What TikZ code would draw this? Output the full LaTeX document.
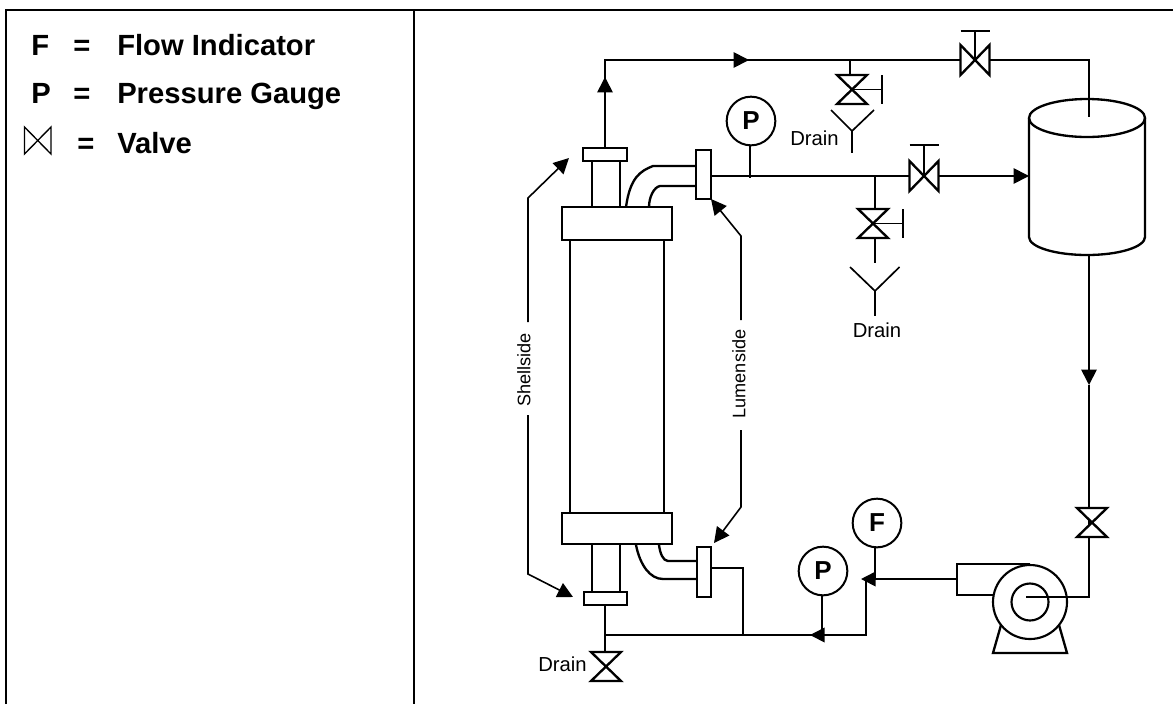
\documentclass[tikz,border=0pt]{standalone}
\usepackage{fontspec}
\setmainfont{Liberation Sans}
\usetikzlibrary{arrows.meta}
\tikzset{
  x=0.75pt,y=-0.75pt,
  pipe/.style={line width=1.25pt,line join=miter},
  equip/.style={line width=1.75pt,line join=miter,fill=white},
  frameline/.style={line width=1.6pt},
  thin leader/.style={line width=1.2pt},
  tipped/.style={-{Triangle[length=11.5pt,width=11.5pt,fill=black]},line width=1.25pt},
  gauge/.style={circle,draw,line width=1.5pt,minimum size=36.5pt,inner sep=0pt,fill=white,font=\bfseries\fontsize{19.5}{20}\selectfont},
  tag/.style={inner sep=0pt,font=\fontsize{15.2}{16}\selectfont},
  sidetag/.style={inner sep=1pt,rotate=90,font=\fontsize{13.6}{15}\selectfont},
  legend/.style={anchor=base west,inner sep=0pt,font=\bfseries\fontsize{21.9}{24}\selectfont},
  pics/vertvalve/.style={code={\draw[equip] (-15,-14.5) -- (15,-14.5) -- (-15,14.5) -- (15,14.5) -- cycle;}},
  pics/horizvalve/.style={code={\draw[equip] (-14.5,-15) -- (-14.5,15) -- (14.5,-15) -- (14.5,15) -- cycle;}},
}
\begin{document}
\begin{tikzpicture}
\useasboundingbox (0,0) rectangle (1173,704);
\fill[white] (0,0) rectangle (1173,704);
% frame
\coordinate (fTL) at (6,10); \coordinate (fBL) at (6,704);
\coordinate (fTR) at (1173,10); \coordinate (fMT) at (414,10); \coordinate (fMB) at (414,704);
\draw[frameline] (fBL) -- (fTL) -- (fTR);
\draw[frameline] (fMT) -- (fMB);
% legend
\node[legend] (lF) at (31,55) {F};
\node[legend] (lFe) at (73,55) {=};
\node[legend] (lFt) at (117,55) {Flow Indicator};
\node[legend] (lP) at (31,103) {P};
\node[legend] (lPe) at (73,103) {=};
\node[legend] (lPt) at (117,103) {Pressure Gauge};
\draw[line width=1pt] (24.5,127) -- (24.5,154) -- (51,127) -- (51,154) -- cycle;
\node[legend] (lVe) at (77,153) {=};
\node[legend] (lVt) at (117,153) {Valve};
% coordinates
\coordinate (upOut) at (605,148);
\coordinate (corner1) at (605,60);
\coordinate (arrowTop) at (749,60);
\coordinate (tankIn) at (1089,117);
\coordinate (corner2) at (1089,60);
\coordinate (mainV) at (975,60);
\coordinate (lumOut) at (711,176);
\coordinate (tankSide) at (1029,176);
\coordinate (prodV) at (924,176);
\coordinate (tankBot) at (1089,255);
\coordinate (corner3) at (1089,597);
\coordinate (pumpIn) at (1026,597);
\coordinate (recV) at (1092,522.5);
\coordinate (pumpOut) at (957,579);
\coordinate (fJunc) at (866,579);
\coordinate (fCorner) at (866,635);
\coordinate (pJunc) at (810,635);
\coordinate (shellNode) at (605,635);
\coordinate (lowOut) at (605,605);
\coordinate (drainV) at (606,666.5);
\coordinate (branchLow) at (743,635);
\coordinate (branchUp) at (743,568);
\coordinate (lumIn) at (711,568);
% main pipes
\draw[pipe] (upOut) -- (corner1) -- (mainV) -- (corner2) -- (1089,99);
\draw[tipped] (upOut) -- (605,77);
\draw[tipped] (680,60) -- (arrowTop);
\draw[pipe] (lumOut) -- (prodV);
\draw[tipped] (prodV) -- (tankSide);
% tank
\draw[equip] (1029,118) -- (1029,237) arc[start angle=180,end angle=360,x radius=58,y radius=-18] -- (1145,118);
\draw[equip,fill=none] (1087,118) ellipse[x radius=58,y radius=19];
\draw[pipe] (corner2) -- (tankIn);
% return line
\draw[pipe] (tankBot) -- (1089,375);
\draw[tipped] (1089,330) -- (1089,385);
\draw[pipe] (1089,385) -- (corner3) -- (pumpIn);
\pic at (recV) {vertvalve};
% pump
\draw[equip] (993,595) -- (957,595) -- (957,564) -- (1030,564);
\draw[equip] (1001,625) -- (993,653) -- (1067,653) -- (1059,625);
\draw[line width=1.6pt] (1030,602) circle[radius=37];
\draw[line width=1.6pt] (1030,602) circle[radius=18.5];
\draw[pipe] (1026,597) -- (corner3);
% discharge
\draw[pipe] (pumpOut) -- (fJunc) -- (fCorner) -- (pJunc);
\draw[pipe] (fCorner) -- (shellNode) -- (lowOut);
\draw[-{Triangle[length=11pt,width=11pt,fill=black]},line width=1.25pt] (875,579) -- (861,579);
\draw[-{Triangle[length=11pt,width=11pt,fill=black]},line width=1.25pt] (824,635) -- (810,635);
\draw[pipe] (branchLow) -- (branchUp) -- (lumIn);
% module
\draw[equip] (570,240) rectangle (664,513);
\draw[equip] (562,207) rectangle (672,240);
\draw[equip] (562,513) rectangle (672,544);
\draw[equip] (592,161) rectangle (620,207);
\draw[equip] (583,148) rectangle (627,161);
\draw[equip] (592,544) rectangle (620,592);
\draw[equip] (584,592) rectangle (627,605);
% lumen elbows
\draw[equip,fill=none] (696,166) -- (653,166) .. controls (640,171) and (630,178) .. (626,207);
\draw[equip,fill=none] (696,186) -- (660,186) .. controls (654,187) and (649,197) .. (649,207);
\draw[equip] (696,150) rectangle (711,199);
\draw[equip,fill=none] (697,561) -- (668,561) .. controls (663,561) and (660,553) .. (659,545);
\draw[equip,fill=none] (697,579) -- (663,579) .. controls (650,579) and (640,565) .. (636,545);
\draw[equip] (697,547) rectangle (711,597);
% drain at shell bottom
\draw[pipe] (shellNode) -- (605,652);
\pic at (drainV) {vertvalve};
\node[tag,anchor=base west] (d3) at (538,671) {Drain};
% handwheel valves
\pic at (mainV) {horizvalve};
\coordinate (mainT) at (975,31);
\draw[pipe] (mainV) -- (mainT);
\draw[pipe] (960.5,31) -- (989.5,31);
\pic at (prodV) {horizvalve};
\coordinate (prodT) at (924,145);
\draw[pipe] (prodV) -- (prodT);
\draw[pipe] (909.5,145) -- (938.5,145);
% upper drain
\coordinate (d1V) at (852,89.5);
\coordinate (d1H) at (882,89.5);
\draw[pipe] (850,60) -- (850,75);
\pic at (d1V) {vertvalve};
\draw[pipe] (d1V) -- (d1H);
\draw[pipe] (882,75) -- (882,104);
\coordinate (d1F) at (852,131);
\draw[pipe] (831,110) -- (d1F) -- (874,110);
\draw[pipe] (d1F) -- (852,153);
\node[tag,anchor=base west] (d1) at (790,145) {Drain};
% middle drain
\coordinate (d2V) at (873,223.5);
\coordinate (d2H) at (903,223.5);
\draw[pipe] (875,176) -- (875,209);
\pic at (d2V) {vertvalve};
\draw[pipe] (d2V) -- (d2H);
\draw[pipe] (903,209) -- (903,238);
\coordinate (d2F) at (875,291);
\draw[pipe] (875,238) -- (875,263);
\draw[pipe] (850,267) -- (d2F) -- (899.5,267);
\draw[pipe] (d2F) -- (875,316);
\node[tag,anchor=base] (d2) at (877,337) {Drain};
% gauges
\node[gauge] (pUp) at (751,121) {P};
\draw[pipe] (pUp.south) ++(-1,0) -- (750,178);
\node[gauge] (pLow) at (823,571) {P};
\draw[pipe] (pLow.south) ++(-1,0) -- (822,635);
\node[gauge] (fInd) at (877,523) {F};
\draw[pipe] (fInd.south) ++(-2,0) -- (875,579);
% side labels
\node[sidetag] (shell) at (524,370) {Shellside};
\node[sidetag] (lumen) at (739,374) {Lumenside};
\coordinate (sBendT) at (528,198); \coordinate (sBendB) at (528,574);
\coordinate (lBendT) at (741,236); \coordinate (lBendB) at (741,507);
\draw[tipped,thin leader] (528,322) -- (sBendT) -- (569,158);
\draw[tipped,thin leader] (528,415) -- (sBendB) -- (573,597);
\draw[tipped,thin leader] (741,320) -- (lBendT) -- (711,199);
\draw[tipped,thin leader] (741,430) -- (lBendB) -- (714,543);
\end{tikzpicture}
\end{document}
